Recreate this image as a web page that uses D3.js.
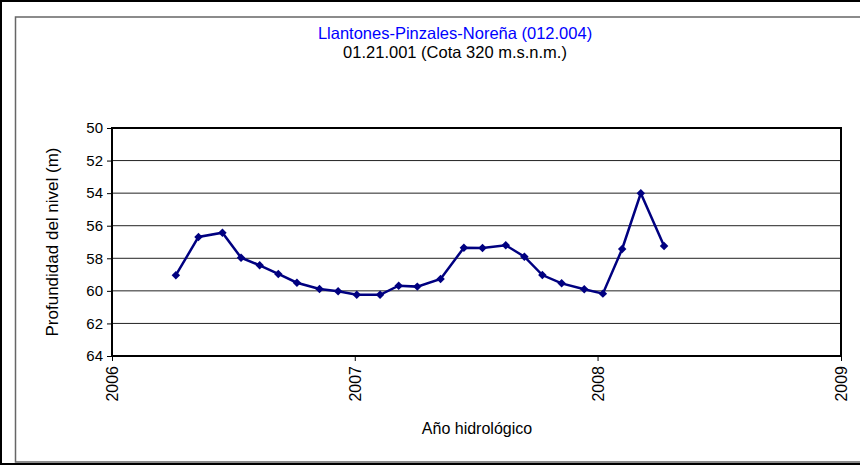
<!DOCTYPE html>
<html>
<head>
<meta charset="utf-8">
<script src="https://cdn.jsdelivr.net/npm/d3@7"></script>
<style>
  body { margin: 0; background: #fff; }
  text { font-family: "Liberation Sans", Arial, sans-serif; }
</style>
</head>
<body>
<script>
// measurement dates and water level depth (m)
var dates = ["2006-04-07", "2006-05-11", "2006-06-16", "2006-07-14", "2006-08-11",
             "2006-09-08", "2006-10-06", "2006-11-09", "2006-12-07", "2007-01-04",
             "2007-02-08", "2007-03-08", "2007-04-05", "2007-05-10", "2007-06-14",
             "2007-07-12", "2007-08-16", "2007-09-13", "2007-10-10", "2007-11-08",
             "2007-12-12", "2008-01-09", "2008-02-07", "2008-03-06", "2008-04-10"];
var depths = [59.04, 56.69, 56.43, 57.96, 58.43,
              58.96, 59.50, 59.89, 60.03, 60.24,
              60.24, 59.68, 59.74, 59.27, 57.35,
              57.37, 57.20, 57.90, 59.03, 59.54,
              59.90, 60.17, 57.43, 54.01, 57.25];
var yearTicks = [2006, 2007, 2008, 2009];
var depthTicks = [50, 52, 54, 56, 58, 60, 62, 64];

var title = "Llantones-Pinzales-Noreña (012.004)";
var subtitle = "01.21.001 (Cota 320 m.s.n.m.)";

var W = 860, H = 465;
var margin = {top: 128, right: 19, bottom: 109, left: 112},
    width = W - margin.left - margin.right,
    height = H - margin.top - margin.bottom;

var parse = d3.timeParse("%Y-%m-%d");
var data = dates.map(function(d, i) { return {date: parse(d), depth: depths[i]}; });

var svg = d3.select("body").append("svg")
    .attr("width", W)
    .attr("height", H);

// outer frame
svg.append("rect").attr("x", 0).attr("y", 0).attr("width", W).attr("height", H).attr("fill", "#fff");
svg.append("line").attr("x1", 0).attr("x2", W).attr("y1", 1).attr("y2", 1).attr("stroke", "#000").attr("stroke-width", 2);
svg.append("line").attr("x1", 1).attr("x2", 1).attr("y1", 0).attr("y2", H).attr("stroke", "#000").attr("stroke-width", 2);
svg.append("line").attr("x1", 0).attr("x2", W).attr("y1", 464).attr("y2", 464).attr("stroke", "#000").attr("stroke-width", 2);
svg.append("rect")
    .attr("x", 15.5).attr("y", 17)
    .attr("width", W).attr("height", 445)
    .attr("fill", "#fff")
    .attr("stroke", "#666")
    .attr("stroke-width", 1.5);

// titles
svg.append("text")
    .attr("x", 455).attr("y", 39)
    .attr("text-anchor", "middle")
    .attr("font-size", "16.5px")
    .attr("fill", "#0000ff")
    .text(title);
svg.append("text")
    .attr("x", 455).attr("y", 58)
    .attr("text-anchor", "middle")
    .attr("font-size", "16.5px")
    .attr("fill", "#000")
    .text(subtitle);

var g = svg.append("g")
    .attr("transform", "translate(" + margin.left + "," + margin.top + ")");

// scales
var x = d3.scaleTime()
    .domain([new Date(2006, 0, 1), new Date(2009, 0, 1)])
    .range([0, width]);
var y = d3.scaleLinear()
    .domain([50, 64])
    .range([0, height]);

// gridlines
g.selectAll(".grid")
    .data(depthTicks.slice(1, -1))
  .enter().append("line")
    .attr("class", "grid")
    .attr("x1", 0).attr("x2", width)
    .attr("y1", function(d) { return y(d); })
    .attr("y2", function(d) { return y(d); })
    .attr("stroke", "#222")
    .attr("stroke-width", 1);

// Y axis
var yAxis = g.append("g")
    .call(d3.axisLeft(y).tickValues(depthTicks).tickSize(5).tickPadding(4));
yAxis.select(".domain").remove();
yAxis.selectAll("text").attr("font-size", "15px").attr("fill", "#000")
    .style("font-family", "'Liberation Sans', Arial, sans-serif");
yAxis.selectAll("line").attr("stroke", "#000");

// X axis
var xAxis = g.append("g")
    .attr("transform", "translate(0," + height + ")")
    .call(d3.axisBottom(x)
      .tickValues(yearTicks.map(function(d) { return new Date(d, 0, 1); }))
      .tickFormat(d3.timeFormat("%Y"))
      .tickSize(5));
xAxis.select(".domain").remove();
xAxis.selectAll("line").attr("stroke", "#000");
xAxis.selectAll("text")
    .attr("font-size", "16px")
    .attr("fill", "#000")
    .style("font-family", "'Liberation Sans', Arial, sans-serif")
    .attr("transform", "rotate(-90)")
    .attr("text-anchor", "end")
    .attr("x", -10)
    .attr("y", 0)
    .attr("dy", "0.35em");

// plot border
g.append("rect")
    .attr("x", 0).attr("y", 0)
    .attr("width", width).attr("height", height)
    .attr("fill", "none")
    .attr("stroke", "#000")
    .attr("stroke-width", 2);

// axis titles
svg.append("text")
    .attr("transform", "translate(58," + (margin.top + height / 2) + ") rotate(-90)")
    .attr("text-anchor", "middle")
    .attr("font-size", "17px")
    .text("Profundidad del nivel (m)");
svg.append("text")
    .attr("x", 477).attr("y", 434)
    .attr("text-anchor", "middle")
    .attr("font-size", "16px")
    .text("Año hidrológico");

// series line
var line = d3.line()
    .x(function(d) { return x(d.date); })
    .y(function(d) { return y(d.depth); });

g.append("path")
    .datum(data)
    .attr("fill", "none")
    .attr("stroke", "#000080")
    .attr("stroke-width", 2.5)
    .attr("d", line);

g.selectAll(".pt")
    .data(data)
  .enter().append("path")
    .attr("class", "pt")
    .attr("transform", function(d) { return "translate(" + x(d.date) + "," + y(d.depth) + ")"; })
    .attr("d", d3.symbol(d3.symbolDiamond2, 46))
    .attr("fill", "#000080");
</script>
</body>
</html>
